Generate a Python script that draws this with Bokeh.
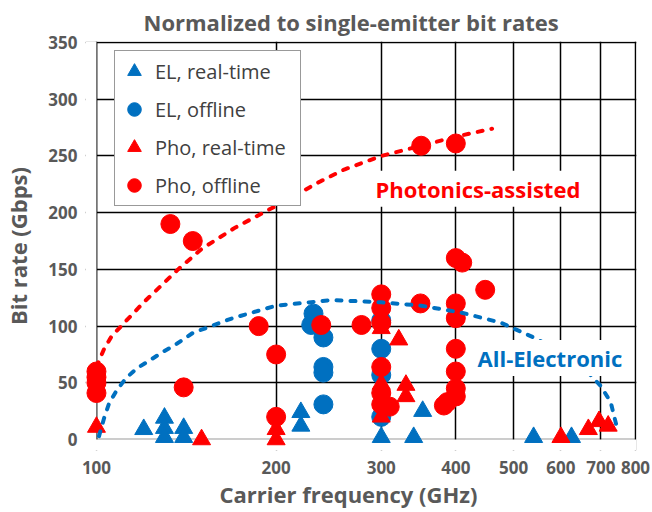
from bokeh.plotting import figure
from bokeh.models import Range1d, FixedTicker, Legend, LegendItem, Label, Title, BoxAnnotation
from bokeh.embed import file_html
from bokeh.resources import INLINE

FONT = "Open Sans"
GRAY = "#595959"
BLUE = "#0070C0"
RED = "#FF0000"

# ---- data ----
el_rt_f = [120, 130, 130, 130, 140, 140, 220, 220, 300, 340, 352, 540, 625]
el_rt_v = [9, 19, 10, 2, 10, 2, 24, 12, 2, 2, 25, 2, 2]

el_off_f = [231, 229, 240, 240, 240, 240, 300, 300, 300, 300]
el_off_v = [111, 101, 90, 64, 59, 31, 105, 80, 57, 20]

pho_rt_f = [100, 150, 200, 200, 300, 321, 300, 300, 330, 330, 600, 667, 695, 720]
pho_rt_v = [11, 0, 9, 0, 98, 88, 49, 20, 48, 38, 2, 9, 16, 12]

pho_off_f = [100, 100, 100, 100, 133, 145, 140, 187, 200, 200, 238, 278,
             300, 300, 300, 300, 300, 300, 310, 349, 350, 400, 400, 410,
             400, 400, 400, 400, 400, 400, 387, 382, 448]
pho_off_v = [60, 55, 50, 41, 190, 175, 46, 100, 75, 20, 101, 101,
             128, 116, 103, 64, 41, 31, 29, 120, 259, 261, 160, 156,
             120, 107, 80, 60, 45, 38, 33, 30, 132]

pho_trend_f = [100, 103, 106, 110, 120, 137, 150, 171, 200, 238, 260, 300, 350, 400, 460]
pho_trend_v = [64, 80, 91, 100, 121, 150, 168, 187, 206, 228, 238, 250, 259, 267, 274]

el_trend_f = [101, 103, 105, 108, 112, 117, 123, 129, 136, 145, 169, 200, 248,
              300, 350, 408, 476, 540, 600, 667, 700, 727, 746]
el_trend_v = [3, 19, 32, 43, 54, 63, 70, 77, 84, 94, 107, 118, 123,
              121, 118, 112, 103, 90, 77, 59, 47, 33, 9]

x_ticks = [100, 200, 300, 400, 500, 600, 700, 800]
x_tick_labels = ["100", "200", "300", "400", "500", "600", "700", "800"]
y_ticks = [0, 50, 100, 150, 200, 250, 300, 350]

series_names = ["EL, real-time", "EL, offline", "Pho, real-time", "Pho, offline"]

# ---- figure (frame padded a little so edge markers are not clipped) ----
p = figure(width=652, height=512, x_axis_type="log",
           x_range=Range1d(95.86, 803.1), y_range=Range1d(-9.65, 350.9),
           output_backend="svg", toolbar_location=None,
           min_border_left=83, min_border_right=16,
           min_border_top=40, min_border_bottom=61)

p.title.text = "Normalized to single-emitter bit rates"
p.title.align = "left"
p.title.offset = 58
p.title.standoff = 9
p.title.text_font = FONT
p.title.text_font_size = "22px"
p.title.text_font_style = "bold"
p.title.text_color = GRAY

p.outline_line_color = None

p.xaxis.ticker = FixedTicker(ticks=x_ticks)
p.xaxis.major_label_overrides = {t: s for t, s in zip(x_ticks, x_tick_labels)}
p.yaxis.ticker = FixedTicker(ticks=y_ticks)
p.xgrid.ticker = FixedTicker(ticks=x_ticks)
p.ygrid.ticker = FixedTicker(ticks=y_ticks[1:])
for g in (p.xgrid, p.ygrid):
    g.grid_line_color = "black"
    g.grid_line_width = 1.5
    g.grid_line_alpha = 1.0

# white masks outside the 100..800 / 0..350 box (under the markers)
p.add_layout(BoxAnnotation(top=y_ticks[0], fill_color="white", fill_alpha=1.0,
                           line_color=None, level="underlay"))
p.add_layout(BoxAnnotation(right=x_ticks[0], fill_color="white", fill_alpha=1.0,
                           line_color=None, level="underlay"))
# base line at zero (grey, like the reference)
p.line([x_ticks[0], x_ticks[-1]], [y_ticks[0], y_ticks[0]], line_color="#9a9a9a",
       line_width=2, level="underlay")
# left border at 100
p.line([x_ticks[0], x_ticks[0]], [y_ticks[0], y_ticks[-1]], line_color="black",
       line_width=1.5, level="underlay")

for ax in (p.xaxis, p.yaxis):
    ax.axis_line_color = None
    ax.major_tick_line_color = None
    ax.minor_tick_line_color = None
    ax.major_label_text_font = FONT
    ax.major_label_text_font_size = "17px"
    ax.major_label_text_font_style = "bold"
    ax.major_label_text_color = GRAY
p.xaxis.major_label_standoff = 4
p.yaxis.major_label_standoff = 2

p.yaxis.axis_label = "Bit rate (Gbps)"
p.yaxis.axis_label_text_font = FONT
p.yaxis.axis_label_text_font_size = "22px"
p.yaxis.axis_label_text_font_style = "bold"
p.yaxis.axis_label_text_color = GRAY
p.yaxis.axis_label_standoff = 12

xlab = Title(text="Carrier frequency (GHz)", align="left", offset=134,
             vertical_align="top",
             text_font=FONT, text_font_size="22px", text_font_style="bold",
             text_color=GRAY, standoff=4)
p.add_layout(xlab, "below")

# ---- markers ----
r1 = p.scatter(el_rt_f, el_rt_v, marker="triangle", size=18, color=BLUE)
r2 = p.scatter(el_off_f, el_off_v, marker="circle", size=19, color=BLUE)
r3 = p.scatter(pho_rt_f, pho_rt_v, marker="triangle", size=18, color=RED)
r4 = p.scatter(pho_off_f, pho_off_v, marker="circle", size=19, color=RED)

# ---- trend curves ----
p.line(pho_trend_f, pho_trend_v, line_color=RED, line_width=4,
       line_dash="5 9", line_cap="round")
p.line(el_trend_f, el_trend_v, line_color=BLUE, line_width=4,
       line_dash="5 9", line_cap="round")

# ---- labels ----
p.add_layout(Label(x=290, y=221, text="Photonics-assisted", text_color=RED,
                   text_font=FONT, text_font_size="22px", text_font_style="bold",
                   text_baseline="middle", background_fill_color="white", padding=3))
p.add_layout(Label(x=430, y=72, text="All-Electronic", text_color=BLUE,
                   text_font=FONT, text_font_size="22px", text_font_style="bold",
                   text_baseline="middle", background_fill_color="white", padding=3))

# ---- legend ----
legend = Legend(items=[LegendItem(label=n, renderers=[r])
                       for n, r in zip(series_names, [r1, r2, r3, r4])],
                location=(29, 244))
legend.padding = 2
legend.spacing = 2
legend.margin = 0
legend.glyph_width = 34
legend.glyph_height = 36
legend.label_height = 36
legend.label_width = 143
legend.label_standoff = 4
legend.label_text_font = FONT
legend.label_text_font_size = "20px"
legend.label_text_color = "#404040"
legend.border_line_color = "#333333"
legend.border_line_width = 1.5
legend.background_fill_color = "white"
legend.background_fill_alpha = 1.0
p.add_layout(legend, "center")

open("out.html", "w").write(file_html(p, INLINE))
